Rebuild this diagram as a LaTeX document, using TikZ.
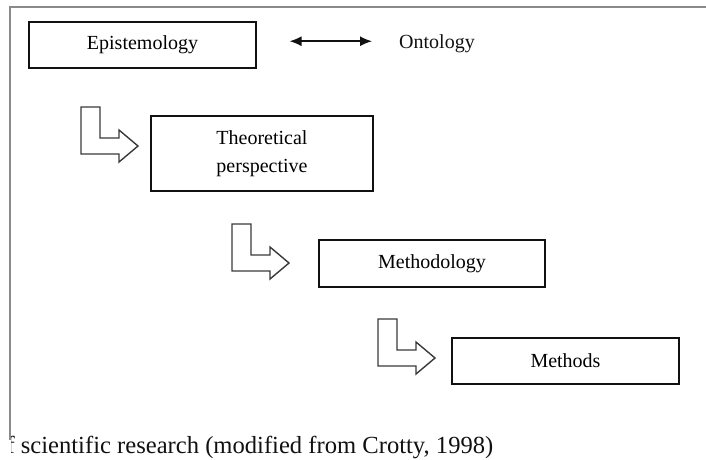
\documentclass[tikz,border=0pt]{standalone}
\usepackage{fontspec}
\setmainfont{Liberation Serif}
\usepackage{xcolor}
\usepackage{tikz}
\usetikzlibrary{arrows.meta}
\definecolor{ink}{HTML}{111111}
\definecolor{rule}{HTML}{8A8A8A}
\definecolor{shape}{HTML}{3A3A3A}
\tikzset{
  box/.style={draw=ink, line width=1.1pt, inner sep=0pt, font=\fontsize{20}{28}\selectfont, align=center},
  lab/.style={text=ink, inner sep=0pt, font=\fontsize{20}{28}\selectfont},
  dbl/.style={draw=ink, line width=1.5pt, {Latex[length=12pt,width=10pt]}-{Latex[length=12pt,width=10pt]}},
  elbow/.style={draw=shape, line width=1.4pt, line join=miter, fill=white},
  frame/.style={draw=rule, line width=2pt},
}

\begin{document}
\begin{tikzpicture}[x=1pt,y=-1pt]
  \useasboundingbox (0,0) rectangle (706,459);
  % outer frame
  \draw[frame] (706,7) -- (10,7) -- (10,440);
  % the four levels
  \node[box, minimum width=227pt, minimum height=46pt] (epi) at (142.5,45) {Epistemology};
  \node[lab, anchor=base] (onto) at (437,48) {Ontology};
  \node[box, minimum width=222pt, minimum height=75pt] (theo) at (262,153.5) {Theoretical\\perspective};
  \node[box, minimum width=226pt, minimum height=47pt] (meth) at (432,263.5) {Methodology};
  \node[box, minimum width=227pt, minimum height=46pt] (mtds) at (565.5,361) {Methods};
  \draw[dbl, shorten <=33pt, shorten >=27pt] ([yshift=2pt]onto.west -| epi.east) -- ([yshift=2pt]onto.west);
  % bent arrows between levels
  \foreach \x/\y in {81/107,232/224,378/319}
    \draw[elbow] (\x,\y) -- ++(19,0) -- ++(0,31) -- ++(19,0) -- ++(0,-8)
      -- ++(19,16) -- ++(-19,16) -- ++(0,-8) -- ++(-38,0) -- cycle;
  % caption, cut at the frame
  \begin{scope}
    \clip (11,420) rectangle (706,459);
    \node[lab, anchor=base west, font=\fontsize{24.6}{28}\selectfont] (cap) at (-6,453)
      {of scientific research (modified from Crotty, 1998)};
  \end{scope}
\end{tikzpicture}
\end{document}
